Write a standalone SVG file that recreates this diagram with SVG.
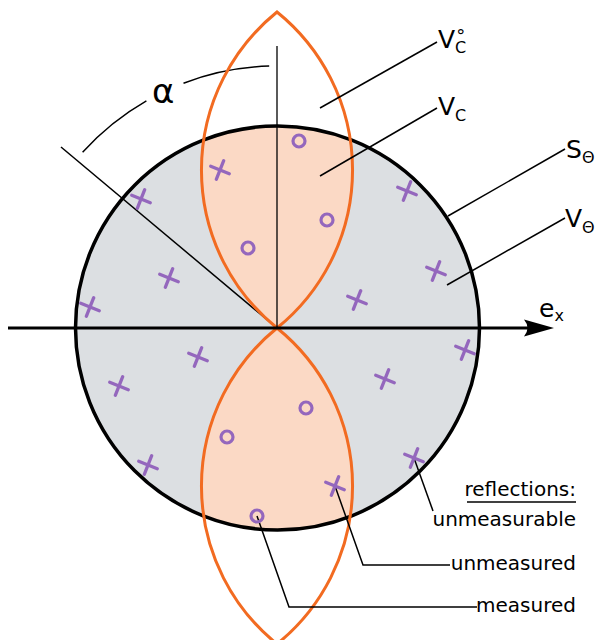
<svg xmlns="http://www.w3.org/2000/svg" width="597" height="640" viewBox="0 0 597 640">
<style>
text{font-family:"DejaVu Sans",sans-serif;fill:#000}
.lead{stroke:#000;stroke-width:1.5;fill:none}
.x{stroke:#9467bd;stroke-width:3.3;stroke-linecap:round;fill:none}
.o{stroke:#9467bd;stroke-width:3.2;fill:none}
.lens{stroke:#f26b21;stroke-width:3;fill:none}
.lbl{font-size:20px}
</style>
<defs>
<clipPath id="cc"><circle cx="277.5" cy="328" r="202"/></clipPath>
<g id="xm"><line class="x" x1="-9.3" y1="-3.7" x2="9.3" y2="3.7"/><line class="x" x1="3.7" y1="-9.3" x2="-3.7" y2="9.3"/></g>
</defs>
<rect width="597" height="640" fill="#fff"/>
<g id="sphere">
<circle cx="277.5" cy="328" r="202" fill="#dcdfe2"/>
</g>
<g id="angle">
<line class="lead" x1="61" y1="147" x2="277" y2="328"/>
<path class="lead" d="M82.6,152.3 A262,262 0 0,1 146.4,100.9 M183.5,83.2 A262,262 0 0,1 269.2,66.1"/>
<text x="152" y="103" font-size="34">α</text>
</g>
<g id="lenses">
<g clip-path="url(#cc)" fill="#fbd9c5">
<path d="M277,328 A203,203 0 0,1 277,12 A203,203 0 0,1 277,328 Z"/>
<path d="M277,328 A203,203 0 0,0 277,644 A203,203 0 0,0 277,328 Z"/>
</g>
<circle cx="277.5" cy="328" r="202" fill="none" stroke="#000" stroke-width="3.5"/>
<path class="lens" d="M277,328 A203,203 0 0,1 277,12 A203,203 0 0,1 277,328 Z"/>
<path class="lens" d="M277,328 A203,203 0 0,0 277,644 A203,203 0 0,0 277,328 Z"/>
</g>
<g id="axes">
<line x1="277" y1="46" x2="277" y2="328" stroke="#000" stroke-width="1.3"/>
<line x1="8" y1="328" x2="532" y2="328" stroke="#000" stroke-width="3.2"/>
<path d="M554,328 L524,319.5 Q531,328 524,336.5 Z" fill="#000"/>
<text x="539" y="317" font-size="25">e<tspan font-size="16" dy="4">x</tspan></text>
</g>
<g id="connectors">
<line class="lead" x1="320" y1="108" x2="437" y2="42"/>
<line class="lead" x1="320" y1="176" x2="437" y2="108"/>
<line class="lead" x1="448" y1="216" x2="565" y2="149"/>
<line class="lead" x1="447" y1="285" x2="565" y2="218"/>
<polyline class="lead" points="414,458 433,511"/>
<polyline class="lead" points="335,486 363,565 450,565"/>
<polyline class="lead" points="257,516 289,607 477,607"/>
</g>
<g id="markers">
<use href="#xm" x="220" y="170"/>
<use href="#xm" x="141" y="199"/>
<use href="#xm" x="169" y="278"/>
<use href="#xm" x="90" y="307"/>
<use href="#xm" x="198" y="357"/>
<use href="#xm" x="119" y="386"/>
<use href="#xm" x="148" y="465"/>
<use href="#xm" x="407" y="191"/>
<use href="#xm" x="436" y="271"/>
<use href="#xm" x="357" y="300"/>
<use href="#xm" x="465" y="350"/>
<use href="#xm" x="385" y="379"/>
<use href="#xm" x="414" y="458"/>
<use href="#xm" x="335" y="486"/>
<circle class="o" cx="299" cy="141" r="6"/>
<circle class="o" cx="327" cy="220" r="6"/>
<circle class="o" cx="248" cy="248" r="6"/>
<circle class="o" cx="306" cy="408" r="6"/>
<circle class="o" cx="227" cy="437" r="6"/>
<circle class="o" cx="257" cy="516" r="6"/>
</g>
<g id="label-Vc0"><text x="438" y="48" font-size="25">V<tspan font-size="16" dy="5">C</tspan><tspan font-size="18" dx="-10" dy="-11">°</tspan></text></g>
<g id="label-Vc"><text x="438" y="115" font-size="25">V<tspan font-size="16" dy="6">C</tspan></text></g>
<g id="label-S"><text x="566" y="158" font-size="25">S<tspan font-size="16" dy="5">Θ</tspan></text></g>
<g id="label-V"><text x="565" y="227" font-size="25">V<tspan font-size="16" dy="6">Θ</tspan></text></g>
<g id="legend">
<text class="lbl" x="576" y="496" text-anchor="end">reflections:</text>
<line x1="467" y1="502" x2="576" y2="502" stroke="#000" stroke-width="1.5"/>
<text class="lbl" x="576" y="526" text-anchor="end">unmeasurable</text>
<text class="lbl" x="576" y="570" text-anchor="end">unmeasured</text>
<text class="lbl" x="576" y="612" text-anchor="end">measured</text>
</g>
</svg>
